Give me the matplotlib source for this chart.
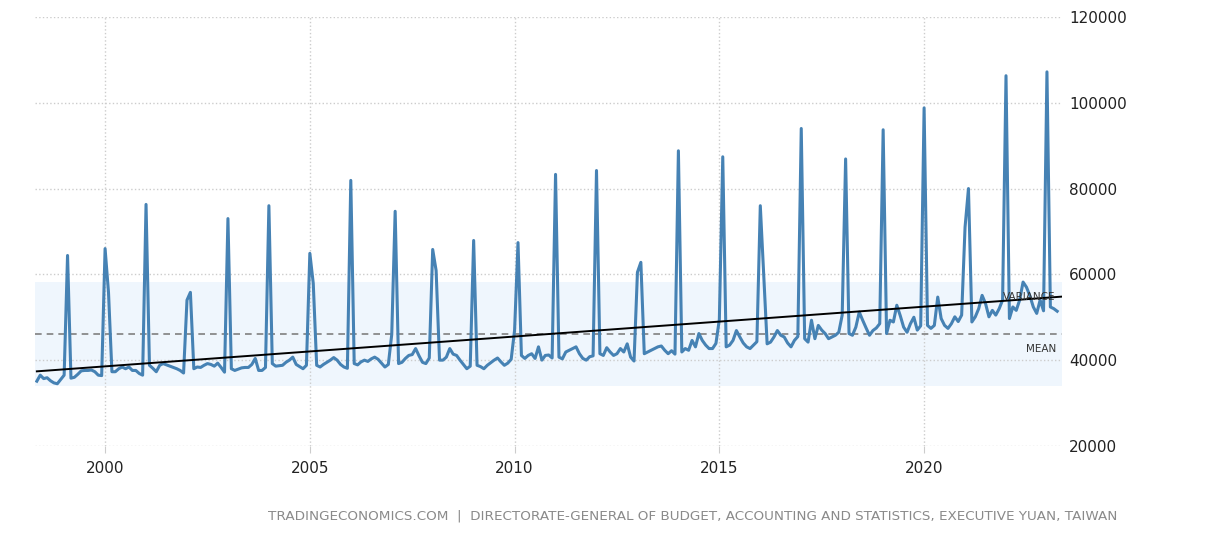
import numpy as np
import matplotlib
matplotlib.use("Agg")
import matplotlib.pyplot as plt

# Taiwan average monthly earnings (TWD), May 1998 - Apr 2023
earn_1998 = [35100, 36500, 35700, 35900, 35200, 34700, 34500, 35500]  # May-Dec
earn_1999 = [36500, 64400, 35800, 36000, 36700, 37500, 37600, 37600, 37700, 37300, 36500, 36400]
earn_2000 = [66000, 55800, 37300, 37300, 38000, 38400, 38000, 38400, 37600, 37600, 36900, 36500]
earn_2001 = [76300, 38800, 38100, 37300, 38800, 39200, 38900, 38600, 38300, 38000, 37600, 37000]
earn_2002 = [54000, 55800, 38000, 38400, 38300, 38800, 39200, 39000, 38600, 39300, 38300, 37200]
earn_2003 = [73000, 38000, 37600, 37900, 38200, 38300, 38300, 39000, 40400, 37600, 37600, 38300]
earn_2004 = [76000, 39200, 38600, 38700, 38800, 39500, 40000, 40700, 39000, 38500, 38000, 38800]
earn_2005 = [64900, 57900, 38800, 38400, 39000, 39500, 40000, 40600, 40000, 39000, 38400, 38100]
earn_2006 = [81900, 39200, 38900, 39600, 40000, 39700, 40300, 40700, 40200, 39300, 38400, 39000]
earn_2007 = [46000, 74700, 39200, 39500, 40400, 41100, 41300, 42700, 41000, 39500, 39200, 40500]
earn_2008 = [65800, 60900, 40000, 40000, 40700, 42700, 41400, 41100, 40000, 39000, 38000, 38600]
earn_2009 = [67900, 38800, 38500, 38000, 38800, 39400, 40000, 40500, 39600, 38800, 39300, 40200]
earn_2010 = [47000, 67400, 41100, 40400, 41100, 41500, 40400, 43100, 40000, 41100, 41200, 40500]
earn_2011 = [83300, 40700, 40300, 41900, 42300, 42700, 43100, 41500, 40400, 40000, 40800, 41000]
earn_2012 = [84200, 41500, 41100, 42900, 41900, 41100, 41500, 42700, 41900, 43800, 40700, 39800]
earn_2013 = [60500, 62800, 41500, 41900, 42300, 42700, 43100, 43300, 42300, 41500, 42200, 41400]
earn_2014 = [88800, 41900, 42700, 42300, 44600, 43100, 46200, 44600, 43500, 42700, 42700, 43900]
earn_2015 = [49500, 87400, 43100, 43500, 44600, 46900, 45400, 44000, 43100, 42700, 43500, 44300]
earn_2016 = [76000, 60000, 43800, 44200, 45400, 46900, 45800, 45400, 44000, 43100, 44600, 45500]
earn_2017 = [94000, 45000, 44200, 49300, 45000, 48100, 47000, 46200, 45000, 45400, 45800, 46500]
earn_2018 = [50500, 86900, 46200, 45800, 47700, 51200, 49300, 47500, 45800, 46900, 47500, 48500]
earn_2019 = [93700, 46200, 49300, 48900, 52800, 50400, 47700, 46500, 48500, 50000, 47000, 48000]
earn_2020 = [98800, 48100, 47400, 48100, 54700, 49700, 48100, 47400, 48500, 50100, 49000, 50500]
earn_2021 = [71000, 80000, 48900, 50100, 52000, 55100, 53200, 50100, 51600, 50500, 52000, 54000]
earn_2022 = [106300, 49700, 52400, 51600, 54000, 58200, 57000, 55000, 52400, 50900, 54000, 51500]
earn_2023 = [107200, 52400, 52000, 51400]  # Jan-Apr

values = np.array(earn_1998 + earn_1999 + earn_2000 + earn_2001 + earn_2002 + earn_2003
                  + earn_2004 + earn_2005 + earn_2006 + earn_2007 + earn_2008 + earn_2009
                  + earn_2010 + earn_2011 + earn_2012 + earn_2013 + earn_2014 + earn_2015
                  + earn_2016 + earn_2017 + earn_2018 + earn_2019 + earn_2020 + earn_2021
                  + earn_2022 + earn_2023, dtype=float)
years = 1998 + 4 / 12 + np.arange(len(values)) / 12

x_ticks = [2000, 2005, 2010, 2015, 2020]
y_ticks = [20000, 40000, 60000, 80000, 100000, 120000]
source = ("TRADINGECONOMICS.COM  |  DIRECTORATE-GENERAL OF BUDGET, ACCOUNTING AND "
          "STATISTICS, EXECUTIVE YUAN, TAIWAN")

mean = values.mean()
std = values.std()
slope, intercept = np.polyfit(years, values, 1)

fig = plt.figure(figsize=(12.09, 5.36), dpi=100)
ax = fig.add_axes([0.029, 0.168, 0.8495, 0.8004])

x_left, x_right = 1998.29, 2023.37
ax.axhspan(mean - std, mean + std, color='#eff6fd', zorder=0, lw=0)
ax.axhline(mean, color='#808080', lw=1.2, dashes=(4, 3), zorder=2)
ax.plot(years, values, color='#4682b4', lw=2.2, zorder=3)
ax.plot([years[0], x_right], [slope * years[0] + intercept, slope * x_right + intercept],
        color='black', lw=1.4, zorder=4)

ax.annotate('VARIANCE', xy=(x_right, mean + std), xytext=(-5, -10.5),
            textcoords='offset points', ha='right', va='center',
            fontsize=7.5, color='#333333', zorder=5)
ax.annotate('MEAN', xy=(x_right, mean), xytext=(-4, -10.5),
            textcoords='offset points', ha='right', va='center',
            fontsize=7.5, color='#333333', zorder=5)

ax.set_xlim(x_left, x_right)
ax.set_ylim(20000, 120000)
ax.set_xticks(x_ticks)
ax.set_yticks(y_ticks)
ax.yaxis.tick_right()
ax.grid(color='#cccccc', linestyle=':', linewidth=1, zorder=1)
ax.set_axisbelow(True)
for side in ['top', 'bottom', 'left', 'right']:
    ax.spines[side].set_visible(False)

ax.tick_params(axis='y', length=0, pad=5, labelsize=11, labelcolor='#222222')
ax.tick_params(axis='x', length=5, color='#cccccc', pad=6, labelsize=11, labelcolor='#222222')

fig.text(1117 / 1209, 1 - 516 / 536, source, ha='right', va='center',
         fontsize=9.7, color='#8a8a8a')

fig.savefig('out.png', dpi=100)
